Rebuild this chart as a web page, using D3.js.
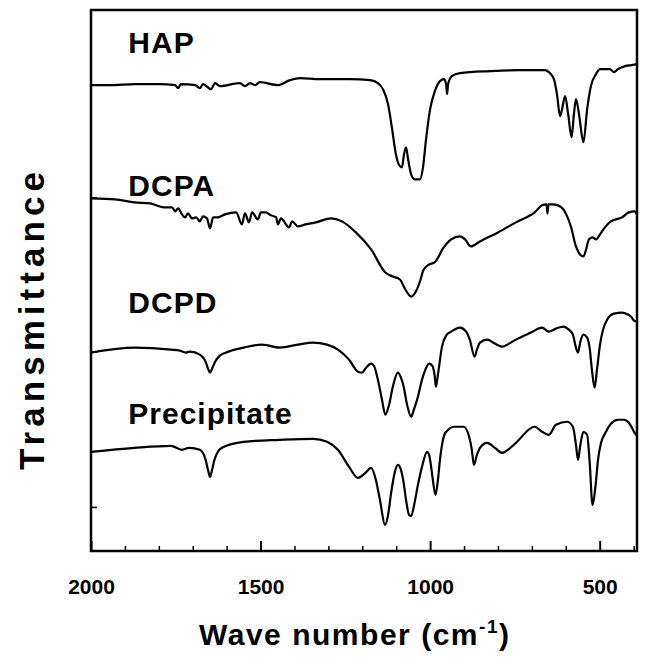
<!DOCTYPE html>
<html>
<head>
<meta charset="utf-8">
<script src="https://cdn.jsdelivr.net/npm/d3@7"></script>
<style>
  body { margin: 0; background: #fff; }
  text { font-family: "Liberation Sans", Arial, Helvetica, sans-serif; font-weight: bold; fill: #000; }
</style>
</head>
<body>
<div id="chart"></div>
<script>
// wave number (cm-1), transmittance (arbitrary units, stacked)
var hap = [[2000,465],[1944,465],[1870,466],[1797,466],[1752,465],[1743,462],[1735,466],[1693,465],[1679,462],[1670,466],
  [1646,461],[1634,467],[1620,464],[1561,467],[1546,464],[1531,467],[1516,465],[1502,468],[1449,465],[1413,470],[1384,472],
  [1325,471],[1236,471],[1177,470],[1154,467],[1139,461],[1124,446],[1112,421],[1101,396],[1089,384],[1083,383],[1077,396],
  [1071,403],[1065,391],[1056,376],[1045,371],[1030,371],[1021,383],[1012,411],[1000,441],[986,459],[971,469],[959,471],
  [953,466],[950,456],[947,466],[936,474],[912,477],[823,479],[735,480],[661,480],[647,477],[635,471],[626,456],[617,434],
  [611,441],[602,454],[593,436],[583,413],[576,436],[570,451],[561,436],[548,408],[537,441],[526,464],[511,476],[499,481],
  [470,481],[458,478],[446,481],[425,484],[405,485],[390,486]];

var dcpa = [[2000,352],[1929,351],[1872,348],[1826,347],[1786,343],[1761,343],[1752,339],[1743,342],[1732,336],[1723,333],
  [1714,337],[1702,332],[1690,333],[1679,329],[1670,334],[1658,332],[1649,322],[1640,333],[1626,333],[1605,336],[1572,338],
  [1555,326],[1546,337],[1534,328],[1525,338],[1508,331],[1499,338],[1485,338],[1469,335],[1454,333],[1449,326],[1440,332],
  [1416,323],[1407,329],[1390,324],[1367,326],[1337,328],[1292,332],[1260,329],[1219,318],[1174,301],[1132,278],[1110,274],
  [1089,271],[1073,261],[1056,254],[1042,259],[1030,269],[1019,281],[1003,286],[987,288],[960,303],[938,311],[912,314],
  [897,311],[880,304],[853,309],[800,318],[747,328],[692,338],[670,345],[657,346],[654,337],[651,346],[639,346],[623,345],
  [607,341],[596,334],[585,324],[570,304],[558,296],[548,294],[540,301],[532,311],[521,313],[511,311],[499,316],[489,321],
  [467,329],[434,333],[414,338],[397,339],[390,336]];

var dcpd = [[2000,198],[1872,203],[1764,201],[1738,200],[1721,198],[1708,199],[1679,196],[1662,189],[1655,182],[1649,178],
  [1643,182],[1634,189],[1620,195],[1603,198],[1550,203],[1496,206],[1443,203],[1390,206],[1346,208],[1304,206],[1272,201],
  [1239,191],[1213,179],[1201,178],[1189,183],[1174,187],[1166,185],[1154,171],[1142,151],[1132,136],[1121,146],[1110,164],
  [1095,178],[1086,173],[1078,164],[1068,146],[1056,134],[1048,141],[1036,154],[1024,171],[1014,181],[1003,187],[994,185],
  [987,176],[983,164],[977,176],[965,204],[953,215],[938,219],[912,223],[894,219],[883,211],[869,194],[862,201],[853,208],
  [832,211],[809,207],[788,204],[767,207],[747,211],[703,218],[670,223],[650,219],[629,222],[607,224],[591,221],[579,216],
  [570,203],[564,198],[557,209],[548,216],[537,213],[529,201],[523,181],[515,163],[508,181],[499,206],[490,221],[478,231],
  [458,237],[434,238],[417,236],[408,234],[399,230],[390,229]];

var precip = [[2000,99],[1872,103],[1764,105],[1732,101],[1711,103],[1679,101],[1662,91],[1655,81],[1649,74],[1643,81],
  [1636,91],[1614,103],[1550,109],[1443,111],[1345,112],[1304,109],[1272,101],[1239,84],[1213,73],[1191,78],[1174,83],
  [1160,71],[1148,51],[1133,26],[1124,36],[1115,58],[1104,79],[1095,86],[1086,81],[1078,68],[1071,51],[1062,36],[1056,35],
  [1046,48],[1036,66],[1024,84],[1009,99],[1003,96],[997,84],[992,71],[984,56],[977,71],[971,91],[955,118],[928,124],
  [901,124],[885,114],[877,101],[871,86],[862,96],[853,103],[832,108],[809,103],[788,98],[767,102],[747,108],[692,124],
  [670,119],[650,116],[629,126],[596,129],[579,124],[570,106],[564,91],[557,106],[548,119],[537,116],[530,91],[521,46],
  [512,66],[505,91],[496,108],[483,118],[467,127],[446,131],[428,131],[414,128],[402,121],[393,116],[390,115]];

var seriesNames = ["HAP", "DCPA", "DCPD", "Precipitate"];
var seriesLabelY = [497, 354, 238, 127];   // label baseline, same units as the traces
var majorTicks = [2000, 1500, 1000, 500];
var minorTicks = [1900, 1800, 1700, 1600, 1400, 1300, 1200, 1100, 900, 800, 700, 600, 400];
var yTicks = [44, 199, 353];

var W = 647, H = 663;
var margin = {top: 10, right: 10, bottom: 112, left: 91};
var width = W - margin.left - margin.right;
var height = H - margin.top - margin.bottom;

var svg = d3.select("#chart").append("svg")
    .attr("width", W)
    .attr("height", H);

var g = svg.append("g")
    .attr("transform", "translate(" + margin.left + "," + margin.top + ")");

var x = d3.scaleLinear().domain([2000, 390]).range([0, width]);
var y = d3.scaleLinear().domain([0, 540]).range([height, 0]);

var line = d3.line()
    .x(function(d) { return x(d[0]); })
    .y(function(d) { return y(d[1]); })
    .curve(d3.curveMonotoneX);

[hap, dcpa, dcpd, precip].forEach(function(s) {
    g.append("path")
        .datum(s)
        .attr("fill", "none")
        .attr("stroke", "#000")
        .attr("stroke-width", 2.2)
        .attr("stroke-linejoin", "round")
        .attr("d", line);
});

// series labels
seriesNames.forEach(function(name, i) {
    g.append("text")
        .attr("x", x(1890))
        .attr("y", y(seriesLabelY[i]))
        .style("font-size", "30px")
        .style("letter-spacing", "1px")
        .text(name);
});

// minor ticks
g.append("g")
    .attr("transform", "translate(0," + height + ")")
    .call(d3.axisBottom(x).tickValues(minorTicks).tickSize(-5).tickFormat(""))
    .call(function(a) { a.select(".domain").remove(); a.selectAll("line").attr("stroke-width", 1.5); });

// major ticks + labels
var xAxis = g.append("g")
    .attr("transform", "translate(0," + height + ")")
    .call(d3.axisBottom(x).tickValues(majorTicks).tickSize(-10).tickPadding(28).tickFormat(d3.format("d")));
xAxis.select(".domain").remove();
xAxis.selectAll("line").attr("stroke-width", 2);
xAxis.selectAll("text")
    .style("font-size", "21px")
    .style("font-family", "'Liberation Sans', Arial, sans-serif")
    .style("font-weight", "bold");

var yAxis = g.append("g")
    .call(d3.axisLeft(y).tickValues(yTicks).tickSize(-6).tickFormat(""));
yAxis.select(".domain").remove();
yAxis.selectAll("line").attr("stroke-width", 1.5);

// frame
g.append("rect")
    .attr("width", width)
    .attr("height", height)
    .attr("fill", "none")
    .attr("stroke", "#000")
    .attr("stroke-width", 2.5);

// axis titles
var xt = svg.append("text")
    .attr("x", 354)
    .attr("y", 645)
    .attr("text-anchor", "middle")
    .attr("textLength", 310)
    .attr("lengthAdjust", "spacing")
    .style("font-size", "30px");
xt.append("tspan").text("Wave number (cm");
xt.append("tspan").attr("dy", -12).style("font-size", "19px").text("-1");
xt.append("tspan").attr("dy", 12).text(")");

svg.append("text")
    .attr("transform", "translate(44,321) rotate(-90)")
    .attr("text-anchor", "middle")
    .attr("textLength", 298)
    .attr("lengthAdjust", "spacing")
    .style("font-size", "35px")
    .text("Transmittance");
</script>
</body>
</html>
